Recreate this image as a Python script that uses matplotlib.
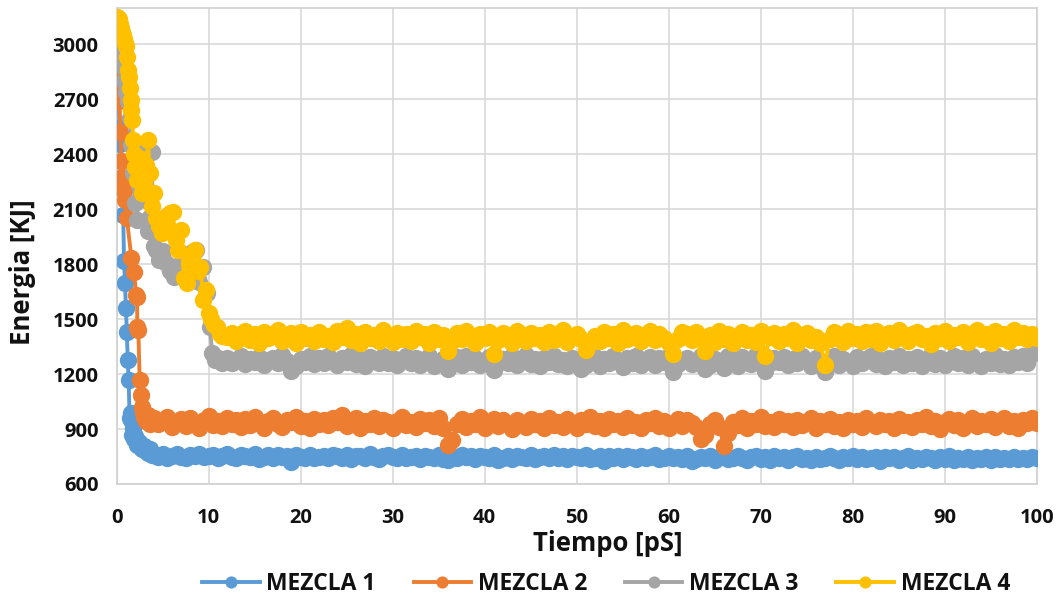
import numpy as np
import matplotlib
matplotlib.use("Agg")
import matplotlib.pyplot as plt

# ---------------- data ----------------
series_names = ["MEZCLA 1", "MEZCLA 2", "MEZCLA 3", "MEZCLA 4"]
series_colors = ["#5B9BD5", "#ED7D31", "#A5A5A5", "#FFC000"]

# MEZCLA 1: fast relaxation, then plateau sampled every 0.5 ps from 4 ps
t1_early = [0.0, 0.1, 0.2, 0.3, 0.4, 0.5, 0.7, 0.8, 0.9, 1.0, 1.1, 1.2, 1.3, 1.4,
            1.5, 1.6, 1.7, 1.8, 1.9, 2.0, 2.2, 2.4, 2.6, 2.8, 3.0, 3.2, 3.4, 3.6, 3.8]
e1_early = [3050, 2920, 2725, 2545, 2455, 2365, 2070, 1820, 1696, 1560, 1430, 1276, 1167, 960,
            985, 950, 870, 905, 845, 860, 815, 830, 800, 790, 805, 782, 770, 790, 760]
e1_plateau = [
    758, 749, 762, 744, 753, 766, 746, 739, 757, 751, 763, 745, 750, 758, 742, 754, 765, 748, 740, 756,
    752, 745, 761, 738, 749, 756, 742, 760, 747, 753, 722, 757, 748, 743, 760, 741, 746, 754, 739, 757,
    750, 744, 759, 737, 751, 755, 741, 762, 746, 736, 752, 756, 749, 743, 760, 740, 745, 753, 738, 755,
    748, 742, 757, 736, 729, 754, 740, 759, 745, 751, 737, 755, 747, 741, 758, 732, 744, 752, 736, 754,
    747, 741, 756, 735, 746, 753, 739, 757, 744, 750, 736, 754, 746, 740, 757, 738, 743, 751, 728, 753,
    742, 750, 736, 755, 745, 734, 752, 740, 749, 756, 735, 743, 751, 739, 748, 737, 754, 726, 735, 745,
    740, 753, 733, 746, 751, 737, 744, 755, 739, 729, 748, 752, 738, 745, 733, 750, 741, 749, 733, 747,
    751, 738, 744, 732, 749, 736, 743, 753, 740, 730, 747, 739, 751, 734, 745, 735, 742, 748, 724, 746,
    739, 747, 733, 744, 750, 731, 742, 736, 749, 740, 732, 746, 738, 751, 733, 744, 737, 747, 731, 743,
    738, 745, 732, 748, 736, 742, 734, 749, 737, 744, 735, 746, 743,
]

# MEZCLA 2
t2_early = [0.0, 0.1, 0.2, 0.3, 0.4, 0.5, 0.6, 0.7, 0.8, 0.9, 1.1, 1.6, 1.9, 2.1, 2.2,
            2.25, 2.35, 2.5, 2.6, 2.7, 2.9, 3.0, 3.2, 3.4, 3.6, 3.8]
e2_early = [3080, 2935, 2800, 2690, 2520, 2362, 2275, 2250, 2200, 2150, 2050, 1833, 1757, 1630, 1620,
            1455, 1440, 1167, 1085, 1020, 990, 965, 945, 975, 930, 960]
e2_plateau = [
    958, 925, 945, 968, 912, 940, 955, 918, 962, 935, 908, 948, 970, 922, 941, 915, 958, 930, 947, 910,
    952, 920, 966, 935, 905, 944, 960, 926, 913, 950, 937, 965, 918, 942, 908, 955, 930, 948, 921, 961,
    940, 975, 915, 933, 958, 906, 944, 927, 962, 917, 950, 936, 904, 946, 968, 923, 939, 912, 955, 931,
    947, 918, 960, 905, 812, 838, 930, 952, 911, 943, 925, 966, 908, 937, 955, 914, 948, 929, 902, 950,
    935, 910, 957, 926, 944, 903, 961, 920, 938, 913, 953, 932, 906, 949, 927, 964, 916, 941, 908, 952,
    929, 946, 911, 958, 923, 937, 905, 950, 933, 962, 915, 943, 904, 928, 955, 919, 947, 935, 910, 845,
    870, 925, 951, 912, 808, 880, 940, 922, 958, 907, 945, 930, 963, 916, 938, 909, 954, 927, 944, 913,
    949, 920, 936, 960, 907, 942, 925, 956, 914, 939, 903, 951, 928, 945, 910, 962, 932, 918, 948, 926,
    941, 906, 957, 923, 936, 912, 950, 930, 965, 915, 944, 902, 938, 953, 921, 947, 908, 934, 960, 917,
    943, 926, 955, 911, 938, 962, 919, 946, 907, 951, 933, 958, 932,
]

# MEZCLA 3
t3_early = [0.0, 0.2, 0.4, 0.6, 0.8, 1.0, 1.2, 1.4, 1.6, 1.8, 2.0, 2.2, 2.4, 2.6, 2.8, 3.0,
            3.2, 3.4, 3.6, 3.8, 4.0, 4.3, 4.6, 5.0, 5.4, 5.8, 6.2, 6.6, 7.0, 7.4, 7.8,
            8.2, 8.6, 9.0, 9.4, 9.8, 10.1, 10.4, 10.7, 11.0, 11.5]
e3_early = [3090, 3040, 2960, 2880, 2800, 2740, 2690, 2600, 2450, 2300, 2133, 2040, 2231, 2280, 2420, 2200,
            2150, 1980, 2060, 2411, 1900, 1876, 1822, 1870, 1805, 1760, 1730, 1790, 1750, 1805, 1830,
            1866, 1880, 1700, 1784, 1640, 1456, 1314, 1276, 1290, 1262]
e3_plateau = [
    1290, 1262, 1278, 1300, 1255, 1283, 1268, 1295, 1250, 1276, 1288, 1259, 1302, 1270, 1218, 1245, 1282, 1264, 1297, 1254,
    1286, 1261, 1299, 1273, 1248, 1290, 1266, 1305, 1257, 1280, 1243, 1294, 1271, 1258, 1300, 1263, 1285, 1249, 1276, 1296,
    1260, 1289, 1252, 1279, 1301, 1244, 1268, 1283, 1225, 1255, 1292, 1247, 1298, 1266, 1287, 1251, 1274, 1295, 1220, 1258,
    1284, 1262, 1297, 1249, 1276, 1303, 1256, 1281, 1242, 1290, 1268, 1299, 1253, 1278, 1245, 1286, 1264, 1225, 1250, 1273,
    1291, 1246, 1282, 1259, 1296, 1270, 1241, 1288, 1263, 1301, 1252, 1279, 1294, 1248, 1285, 1266, 1298, 1212, 1255, 1271,
    1287, 1257, 1274, 1300, 1230, 1250, 1283, 1262, 1235, 1296, 1278, 1244, 1291, 1268, 1253, 1302, 1275, 1215, 1260, 1289,
    1265, 1294, 1247, 1281, 1258, 1299, 1271, 1243, 1288, 1262, 1210, 1276, 1297, 1252, 1284, 1267, 1245, 1292, 1259, 1280,
    1301, 1254, 1277, 1243, 1290, 1266, 1298, 1251, 1283, 1260, 1295, 1246, 1274, 1302, 1257, 1286, 1249, 1279, 1296, 1263,
    1288, 1252, 1299, 1270, 1245, 1284, 1261, 1304, 1256, 1281, 1248, 1293, 1267, 1300, 1258, 1312, 1318,
]

# MEZCLA 4
t4_early = [0.0, 0.1, 0.2, 0.3, 0.4, 0.5, 0.6, 0.7, 0.8, 0.9, 1.0, 1.1, 1.2, 1.3, 1.4, 1.5,
            1.6, 1.7, 1.8, 1.9, 2.0, 2.2, 2.4, 2.6, 2.8, 3.0, 3.2, 3.4, 3.6, 3.8, 4.0,
            4.3, 4.6, 4.9, 5.2, 5.5, 5.8, 6.1, 6.4, 6.7, 7.0, 7.3, 7.6, 7.9, 8.2, 8.5,
            8.8, 9.1, 9.4, 9.7, 10.0, 10.3, 10.6, 10.9, 11.2, 11.5]
e4_early = [3150, 3145, 3140, 3130, 3110, 3090, 3070, 3050, 3030, 3010, 2990, 2930, 2860, 2820, 2760, 2694,
            2640, 2585, 2476, 2400, 2330, 2258, 2380, 2296, 2190, 2250, 2340, 2476, 2296, 2120, 2187,
            2050, 2010, 1970, 2060, 2000, 2078, 2085, 1930, 1876, 1985, 1724, 1696, 1800, 1840, 1876,
            1760, 1784, 1604, 1658, 1533, 1500, 1470, 1457, 1420, 1410]
e4_plateau = [
    1400, 1425, 1378, 1410, 1435, 1385, 1418, 1370, 1428, 1395, 1412, 1438, 1380, 1405, 1422, 1372, 1432, 1398, 1415, 1383,
    1427, 1390, 1410, 1375, 1436, 1402, 1449, 1386, 1420, 1368, 1430, 1396, 1413, 1380, 1439, 1405, 1374, 1424, 1392, 1416,
    1382, 1433, 1401, 1419, 1370, 1428, 1394, 1411, 1325, 1378, 1425, 1390, 1436, 1405, 1372, 1418, 1397, 1430, 1310, 1384,
    1422, 1395, 1369, 1437, 1408, 1381, 1426, 1399, 1415, 1373, 1432, 1388, 1410, 1440, 1377, 1403, 1421, 1392, 1330, 1368,
    1409, 1383, 1428, 1397, 1416, 1371, 1438, 1390, 1404, 1425, 1378, 1413, 1435, 1386, 1420, 1399, 1367, 1310, 1392, 1429,
    1418, 1385, 1431, 1400, 1325, 1412, 1377, 1436, 1393, 1421, 1369, 1407, 1428, 1388, 1415, 1374, 1433, 1300, 1402, 1424,
    1380, 1417, 1396, 1439, 1372, 1410, 1426, 1387, 1404, 1368, 1250, 1391, 1430, 1413, 1376, 1435, 1398, 1419, 1382, 1427,
    1394, 1436, 1371, 1411, 1423, 1385, 1440, 1402, 1378, 1418, 1430, 1390, 1407, 1366, 1425, 1397, 1437, 1381, 1414, 1403,
    1428, 1376, 1412, 1441, 1389, 1420, 1370, 1433, 1399, 1416, 1382, 1438, 1404, 1423, 1393, 1418, 1395,
]

# plateau sampling grids (0.5 ps)
t12_plateau = np.arange(4.0, 100.0 + 1e-9, 0.5)
t34_plateau = np.arange(12.0, 100.0 + 1e-9, 0.5)

x_ticks = [0, 10, 20, 30, 40, 50, 60, 70, 80, 90, 100]
y_ticks = [600, 900, 1200, 1500, 1800, 2100, 2400, 2700, 3000]

# ---------------- figure ----------------
FONT = ["Open Sans", "DejaVu Sans"]
plt.rcParams["font.family"] = FONT
plt.rcParams["font.weight"] = "bold"
TEXT = "#111111"

fig = plt.figure(figsize=(10.61, 5.96), dpi=100)
ax = fig.add_axes([0.110, 0.188, 0.867, 0.799])

series = [
    (np.concatenate([t1_early, t12_plateau]), np.concatenate([e1_early, e1_plateau])),
    (np.concatenate([t2_early, t12_plateau]), np.concatenate([e2_early, e2_plateau])),
    (np.concatenate([t3_early, t34_plateau]), np.concatenate([e3_early, e3_plateau])),
    (np.concatenate([t4_early, t34_plateau]), np.concatenate([e4_early, e4_plateau])),
]

for (t, e), name, col in zip(series, series_names, series_colors):
    ax.plot(t, e, color=col, lw=2.8, marker="o", markersize=12.5,
            markerfacecolor=col, markeredgecolor=col, markeredgewidth=0,
            label=name, zorder=3)

ax.set_xlim(0, 100)
ax.set_ylim(600, 3200)
ax.set_xticks(x_ticks)
ax.set_yticks(y_ticks)
ax.grid(True, color="#D9D9D9", lw=1.2, zorder=0)
ax.set_axisbelow(True)
for side in ["top", "right", "left", "bottom"]:
    ax.spines[side].set_color("#D0D0D0")
    ax.spines[side].set_linewidth(1.2)
ax.tick_params(length=0, labelsize=14.5, labelcolor=TEXT)
ax.tick_params(axis="y", pad=13)
ax.tick_params(axis="x", pad=17)
for lab in ax.get_xticklabels() + ax.get_yticklabels():
    lab.set_fontweight("bold")

ax.set_xlabel("Tiempo [pS]", fontsize=18.5, fontweight="bold", color=TEXT,
              va="center")
ax.xaxis.set_label_coords(0.534, -0.124)
ax.set_ylabel("Energia [KJ]", fontsize=18.5, fontweight="bold", color=TEXT,
              va="center")
ax.yaxis.set_label_coords(-0.1027, 0.445)

leg = ax.legend(loc="center", bbox_to_anchor=(0.532, -0.211), ncol=4,
                frameon=False, handlelength=2.5, handletextpad=0.3,
                columnspacing=1.65, markerscale=0.7,
                prop={"weight": "bold", "size": 16.5})
for txt in leg.get_texts():
    txt.set_color(TEXT)

fig.savefig("out.png", dpi=100, facecolor="white")
